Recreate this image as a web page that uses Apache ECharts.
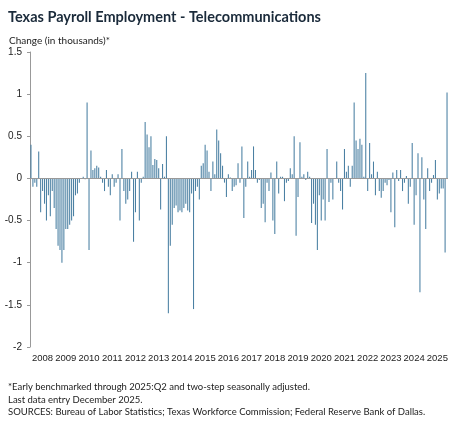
<!DOCTYPE html>
<html>
<head>
<meta charset="utf-8">
<script src="https://cdn.jsdelivr.net/npm/echarts@6/dist/echarts.min.js"></script>
<style>
body{margin:0;background:#fff;font-family:Lato,"Noto Sans",sans-serif;}
#chart01{width:474px;height:425px;}
</style>
</head>
<body>
<div id="chart01"></div>
<script>
// 年份
var years = ['2008','2009','2010','2011','2012','2013','2014','2015','2016','2017','2018','2019','2020','2021','2022','2023','2024','2025'];
// 每月变化 (千人)
var v2008 = [0.4,-0.1,-0.05,-0.1,0.32,-0.4,-0.15,-0.3,-0.5,-0.2,-0.45,-0.15];
var v2009 = [-0.35,-0.6,-0.8,-0.85,-1.0,-0.85,-0.6,-0.6,-0.55,-0.5,-0.45,-0.2];
var v2010 = [-0.18,-0.05,0.0,0.02,-0.01,0.9,-0.85,0.33,0.1,0.12,0.15,0.13];
var v2011 = [0.02,-0.05,-0.15,0.1,-0.1,-0.2,0.05,-0.1,-0.05,0.05,-0.5,0.35];
var v2012 = [-0.15,-0.3,-0.25,-0.15,0.08,-0.75,-0.4,0.08,-0.5,-0.05,0.02,0.67];
var v2013 = [0.52,0.37,0.5,0.16,0.23,0.22,0.12,-0.37,0.17,0.02,0.5,-1.6];
var v2014 = [-0.8,-0.55,-0.35,-0.32,-0.4,-0.38,-0.4,-0.35,-0.3,-0.38,-0.4,-0.18];
var v2015 = [-1.55,-0.15,-0.1,-0.25,0.15,0.18,0.4,0.33,0.08,-0.15,0.2,0.05];
var v2016 = [0.58,0.45,0.3,0.15,-0.05,-0.22,0.05,0.01,-0.15,-0.1,-0.08,0.18];
var v2017 = [-0.05,0.38,-0.47,-0.1,0.2,0.02,0.1,0.38,0.1,-0.05,-0.02,-0.35];
var v2018 = [-0.3,-0.52,-0.05,-0.15,0.07,-0.5,-0.66,0.2,-0.18,0.02,0.02,-0.27];
var v2019 = [-0.05,-0.03,0.12,0.05,0.5,-0.68,-0.22,0.43,0.02,0.05,-0.02,0.08];
var v2020 = [0.02,-0.53,-0.3,-0.55,-0.85,-0.2,-0.5,-0.25,-0.5,0.35,-0.28,-0.05];
var v2021 = [-0.25,0.0,0.2,-0.05,-0.15,-0.37,0.35,0.08,0.15,-0.1,0.15,0.9];
var v2022 = [0.45,0.35,0.47,0.4,0.02,1.25,-0.15,0.42,0.05,0.2,-0.2,0.08];
var v2023 = [-0.15,-0.23,-0.15,-0.05,-0.08,-0.02,-0.4,0.07,-0.58,0.1,-0.03,0.1];
var v2024 = [-0.15,-0.05,0.03,-0.3,-0.1,0.42,-0.55,-0.2,0.3,-1.35,0.25,-0.25];
var v2025 = [-0.6,0.12,-0.15,-0.05,0.04,0.22,-0.25,-0.18,-0.12,-0.12,-0.88,1.02];

var values = [].concat(v2008,v2009,v2010,v2011,v2012,v2013,v2014,v2015,v2016,v2017,v2018,v2019,v2020,v2021,v2022,v2023,v2024,v2025);
var months = [];
years.forEach(function(y){ for(var m=1;m<=12;m++){ months.push(y+'-'+m); } });

var chart01 = echarts.init(document.getElementById('chart01'));
var option = {
  animation:false,
  title: [
    {text:'Texas Payroll Employment - Telecommunications',left:3,top:5,
     textStyle:{fontSize:14.5,fontWeight:'bold',color:'#1a2a3a',fontFamily:'Lato'}},
    {text:'Change (in thousands)*',left:4,top:31,
     textStyle:{fontSize:10,fontWeight:'normal',color:'#222',fontFamily:'Lato'}},
    {text:'*Early benchmarked through 2025:Q2 and two-step seasonally adjusted.\nLast data entry December 2025.\nSOURCES: Bureau of Labor Statistics; Texas Workforce Commission; Federal Reserve Bank of Dallas.',
     left:3,top:376,
     textStyle:{fontSize:9.5,fontWeight:'normal',color:'#222',lineHeight:12.5,fontFamily:'Lato'}}
  ],
  grid:{left:30,right:26,top:52,bottom:78},
  xAxis:{
    type:'category',
    data:months,
    axisLine:{show:false,onZero:false},
    axisTick:{show:false},
    axisLabel:{
      interval:function(i){return i%12===6;},
      formatter:function(v){return v.split('-')[0];},
      fontSize:9.5,color:'#222',margin:6,fontFamily:'Liberation Sans'
    }
  },
  yAxis:{
    type:'value',min:-2,max:1.5,interval:0.5,
    axisLine:{show:true,lineStyle:{color:'#999'}},
    axisTick:{show:true,length:3,lineStyle:{color:'#999'}},
    splitLine:{show:false},
    axisLabel:{fontSize:10,color:'#222',margin:8,fontFamily:'Liberation Sans'}
  },
  series:[{
    type:'bar',
    data:values,
    barWidth:'55%',
    itemStyle:{color:'#4b80a3'},
    markLine:{
      silent:true,symbol:'none',label:{show:false},
      lineStyle:{color:'#999',type:'solid',width:1},
      data:[{yAxis:0}]
    }
  }]
};
chart01.setOption(option);
</script>
</body>
</html>
